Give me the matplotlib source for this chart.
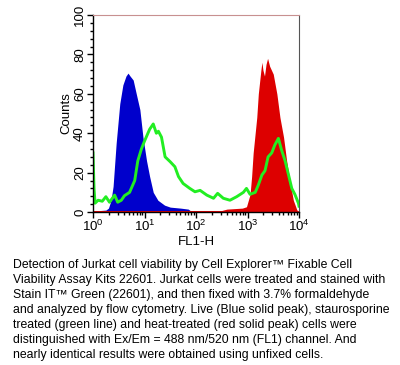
import numpy as np
from matplotlib import pyplot as plt
from matplotlib.ticker import FixedLocator, LogLocator, NullFormatter, FuncFormatter

plt.rcParams['font.family'] = ['Liberation Sans', 'DejaVu Sans']
plt.rcParams['mathtext.fontset'] = 'custom'
plt.rcParams['mathtext.rm'] = 'Liberation Sans'
plt.rcParams['mathtext.it'] = 'Liberation Sans'

# live cells (blue), log10 of FL1-H and counts
blue_log = [0.0, 0.25, 0.30, 0.35, 0.39, 0.45, 0.52, 0.58, 0.64, 0.68, 0.72, 0.78,
            0.84, 0.91, 0.97, 1.04, 1.10, 1.17, 1.26, 1.39, 1.50, 1.70, 1.85, 1.90, 4.0]
blue_cnt = [0.5, 1, 2, 6, 13, 35, 55, 64.5, 69, 70.5, 69, 67,
            60, 52, 38, 26, 18, 10, 6, 3.5, 2.5, 2, 1.5, 0.5, 0.3]

# staurosporine treated (green line)
green_log = [0.0, 0.02, 0.04, 0.10, 0.18, 0.25, 0.32, 0.42, 0.48, 0.55, 0.61, 0.71,
             0.81, 0.87, 0.94, 1.00, 1.10, 1.17, 1.23, 1.27, 1.33, 1.40, 1.50, 1.59,
             1.66, 1.75, 1.88, 1.98, 2.08, 2.21, 2.34, 2.42, 2.53, 2.66, 2.79, 2.92,
             2.98, 3.05, 3.15, 3.21, 3.28, 3.34, 3.40, 3.47, 3.53, 3.60, 3.66, 3.73,
             3.79, 3.86, 3.92, 3.99, 4.0]
green_cnt = [30, 12, 4.5, 6, 5.5, 7.8, 5, 8.6, 5, 6, 8.3, 10,
             16, 26, 32, 36, 42, 44.7, 40, 41, 38, 28, 25.5, 23,
             18, 14.5, 12, 10.3, 11, 8.6, 7, 9.5, 7, 6, 7.8, 10,
             12, 9, 10, 13.7, 18.8, 21, 28, 30, 34, 37.4, 31.6, 26,
             19.6, 12, 9, 4.4, 3]

# heat-treated (red)
red_log = [0.0, 2.50, 2.60, 2.90, 2.98, 3.05, 3.08, 3.11, 3.18, 3.21, 3.26, 3.28,
           3.30, 3.33, 3.36, 3.39, 3.43, 3.50, 3.57, 3.63, 3.70, 3.76, 3.83, 3.89,
           3.96, 4.0]
red_cnt = [0.8, 0.8, 1.5, 2, 2.7, 9, 18, 30, 48, 60, 72, 76,
           72, 69, 75, 78, 74, 70, 60, 48, 38, 26, 14.6, 6,
           1, 0.5]

caption_lines = [
    "Detection of Jurkat cell viability by Cell Explorer\u2122 Fixable Cell",
    "Viability Assay Kits 22601. Jurkat cells were treated and stained with",
    "Stain IT\u2122 Green (22601), and then fixed with 3.7% formaldehyde",
    "and analyzed by flow cytometry. Live (Blue solid peak), staurosporine",
    "treated (green line) and heat-treated (red solid peak) cells were",
    "distinguished with Ex/Em = 488 nm/520 nm (FL1) channel. And",
    "nearly identical results were obtained using unfixed cells.",
]

fig = plt.figure(figsize=(4, 3.65), dpi=100)
ax = fig.add_axes([0.2325, 0.419, 0.515, 0.54])

bx = 10 ** np.array(blue_log)
gx = 10 ** np.array(green_log)
rx = 10 ** np.array(red_log)

ax.fill_between(bx, 0, blue_cnt, color='#0000cc', lw=0)
ax.fill_between(rx, 0, red_cnt, color='#dd0000', lw=0)
ax.plot(gx, green_cnt, color='#22ee22', lw=2.1)

ax.set_xscale('log')
ax.set_xlim(1, 1e4)
ax.set_ylim(0, 100)
ax.xaxis.set_major_locator(FixedLocator([1, 10, 100, 1000, 10000]))
ax.xaxis.set_minor_locator(LogLocator(base=10, subs=np.arange(2, 10)))
ax.xaxis.set_minor_formatter(NullFormatter())
ax.xaxis.set_major_formatter(FuncFormatter(lambda v, p: r'$10^{%d}$' % round(np.log10(v))))
ax.yaxis.set_major_locator(FixedLocator([0, 20, 40, 60, 80, 100]))
ax.yaxis.set_minor_locator(FixedLocator(np.arange(0, 101, 4)))

ax.tick_params(which='major', length=4, width=1, labelsize=9.5, pad=1, direction='out')
ax.tick_params(which='minor', length=2.5, width=1, direction='out')
for t in ax.get_yticklabels():
    t.set_rotation(90)
    t.set_va('center')

ax.spines['top'].set_color('#c89090')
ax.spines['top'].set_linewidth(0.8)
ax.spines['right'].set_color('#555555')
ax.spines['left'].set_linewidth(1)
ax.spines['bottom'].set_linewidth(1)

ax.set_xlabel('FL1-H', fontsize=9.5, labelpad=1)
ax.set_ylabel('Counts', fontsize=9.5, labelpad=1)

# caption, one line every 15 px
for i, line in enumerate(caption_lines):
    fig.text(13 / 400, 1 - (268 + 15 * i) / 365, line, fontsize=8.8,
             va='baseline', ha='left')

fig.savefig('out.png', dpi=100)
